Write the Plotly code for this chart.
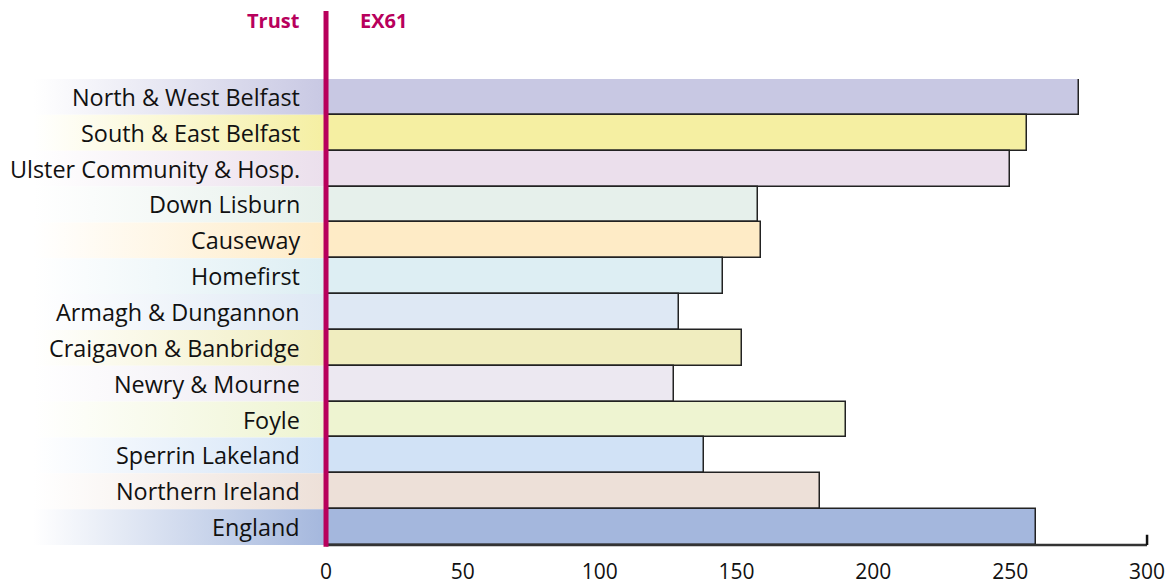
import plotly.graph_objects as go

trusts = ["North & West Belfast", "South & East Belfast", "Ulster Community & Hosp.",
          "Down Lisburn", "Causeway", "Homefirst", "Armagh & Dungannon",
          "Craigavon & Banbridge", "Newry & Mourne", "Foyle", "Sperrin Lakeland",
          "Northern Ireland", "England"]
values = [275, 256, 250, 158, 159, 145, 129, 152, 127, 190, 138, 180.5, 259.5]
colors = ["#C8C8E3", "#F5EFA2", "#EBDFEC", "#E6F0EB", "#FEEBC6", "#DDEEF3",
          "#DEE8F4", "#F0EDBF", "#ECE8F1", "#EEF4D1", "#D1E2F6", "#EDE0D8", "#A4B7DD"]
tick_vals = [0, 50, 100, 150, 200, 250, 300]
header_left = "Trust"
header_right = "EX61"

MAGENTA = "#B8005C"
XMIN, XMAX = -116.2, 313.5

fig = go.Figure()

# gradient label bands
for i, (name, c) in enumerate(zip(trusts, colors)):
    fig.add_trace(go.Scatter(
        x=[XMIN, 0, 0, XMIN, XMIN], y=[i - 0.5, i - 0.5, i + 0.5, i + 0.5, i - 0.5],
        mode="lines", line=dict(width=0), fill="toself",
        fillgradient=dict(type="horizontal", colorscale=[[0, "#FFFFFF"], [0.08, "#FFFFFF"], [1, c]]),
        hoverinfo="skip", showlegend=False))

fig.add_trace(go.Bar(
    x=values, y=list(range(len(trusts))), orientation="h", width=1,
    marker=dict(color=colors, line=dict(color="#222222", width=1.5)),
    showlegend=False, hovertext=trusts))

annotations = []
for i, name in enumerate(trusts):
    annotations.append(dict(x=-8.8, y=i, xref="x", yref="y", text=name, showarrow=False,
                            xanchor="right", yanchor="middle",
                            font=dict(family="Open Sans", size=23.4, color="#111111")))
annotations.append(dict(x=-8.8, y=1.1245, xref="x", yref="paper", text="<b>%s</b>" % header_left,
                        showarrow=False, xanchor="right", yanchor="middle",
                        font=dict(family="Open Sans", size=20, color=MAGENTA)))
annotations.append(dict(x=11.7, y=1.1245, xref="x", yref="paper", text="<b>%s</b>" % header_right,
                        showarrow=False, xanchor="left", yanchor="middle",
                        font=dict(family="Open Sans", size=20, color=MAGENTA)))

shapes = [
    dict(type="line", xref="x", yref="paper", x0=0, x1=300, y0=0, y1=0,
         line=dict(color="#333333", width=2.5), layer="above"),
    dict(type="line", xref="x", yref="paper", x0=300, x1=300, y0=0, y1=0.022,
         line=dict(color="#111111", width=2.5), layer="above"),
    dict(type="line", xref="x", yref="paper", x0=0, x1=0, y0=-0.004, y1=1.146,
         line=dict(color=MAGENTA, width=5), layer="above"),
]

fig.update_layout(
    width=1176, height=585,
    margin=dict(l=0, r=0, t=71, b=48),
    paper_bgcolor="white", plot_bgcolor="white",
    bargap=0,
    xaxis=dict(range=[XMIN, XMAX], tickvals=tick_vals, showgrid=False, zeroline=False,
               showline=False, ticks="", ticklabelstandoff=12,
               tickfont=dict(family="Open Sans", size=21, color="#111111")),
    yaxis=dict(range=[12.5, -0.5], showticklabels=False, showgrid=False, zeroline=False,
               showline=False, ticks=""),
    annotations=annotations, shapes=shapes,
)

fig.write_html("out.html")
